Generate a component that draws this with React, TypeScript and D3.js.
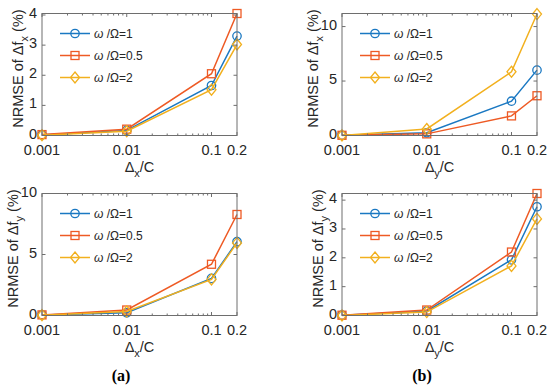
import React from 'react';
import * as d3 from 'd3';

// x values (log axis)
const xValues = [0.001, 0.01, 0.1, 0.2];
const xTickLabels = ['0.001', '0.01', '0.1', '0.2'];
const minorTicks = [0.002, 0.003, 0.004, 0.005, 0.006, 0.007, 0.008, 0.009, 0.02, 0.03, 0.04, 0.05, 0.06, 0.07, 0.08, 0.09];

const seriesLabels = ['1', '0.5', '2'];
const colors = ['#1a78c2', '#ee5a24', '#f2b01e'];
const markers = ['circle', 'square', 'diamond'];

// (a) top: NRMSE of dfx vs dx/C
const fxDx1 = [0.02, 0.17, 1.66, 3.3];
const fxDx05 = [0.03, 0.21, 2.05, 4.05];
const fxDx2 = [0.01, 0.14, 1.52, 3.02];
// (b) top: NRMSE of dfx vs dy/C
const fxDy1 = [0.02, 0.25, 3.15, 6.0];
const fxDy05 = [0.02, 0.15, 1.8, 3.65];
const fxDy2 = [0.01, 0.6, 5.85, 11.15];
// (a) bottom: NRMSE of dfy vs dx/C
const fyDx1 = [0.05, 0.22, 3.04, 6.05];
const fyDx05 = [0.05, 0.45, 4.2, 8.28];
const fyDx2 = [0.03, 0.33, 2.96, 5.95];
// (b) bottom: NRMSE of dfy vs dy/C
const fyDy1 = [0.01, 0.15, 1.93, 3.77];
const fyDy05 = [0.01, 0.19, 2.2, 4.23];
const fyDy2 = [0.0, 0.12, 1.72, 3.35];

const yTicksA = [0, 1, 2, 3, 4];
const yTicksB = [0, 5, 10];

const FONT = "'Liberation Sans', Arial, Helvetica, sans-serif";
const W = 195;
const H = 122;

function Marker({ type, x, y, color }) {
  if (type === 'circle') {
    return <circle cx={x} cy={y} r={4.2} fill="none" stroke={color} strokeWidth={1.3} />;
  }
  if (type === 'square') {
    return <rect x={x - 4} y={y - 4} width={8} height={8} fill="none" stroke={color} strokeWidth={1.3} />;
  }
  return (
    <path
      d={`M${x},${y - 5.5}L${x + 4.5},${y}L${x},${y + 5.5}L${x - 4.5},${y}Z`}
      fill="none"
      stroke={color}
      strokeWidth={1.3}
    />
  );
}

function Panel({ left, top, series, yMax, yTicks, xSub, ySub }) {
  const x = d3.scaleLog().domain([0.001, 0.2]).range([0, W]);
  const y = d3.scaleLinear().domain([0, yMax]).range([H, 0]);
  const line = d3
    .line<number>()
    .x((d, i) => x(xValues[i]))
    .y((d) => y(d));
  const axisColor = '#6e6e6e';
  // y label sits further out when tick labels have two digits
  const labelOff = yTicks[yTicks.length - 1] >= 10 ? -24 : -19;

  return (
    <g transform={`translate(${left},${top})`} fontFamily={FONT}>
      {/* series */}
      {series.map((s, k) => (
        <g key={k}>
          <path d={line(s) || ''} fill="none" stroke={colors[k]} strokeWidth={1.5} />
          {s.map((v, i) => (
            <Marker key={i} type={markers[k]} x={x(xValues[i])} y={y(v)} color={colors[k]} />
          ))}
        </g>
      ))}
      {/* box */}
      <rect x={0} y={0} width={W} height={H} fill="none" stroke={axisColor} strokeWidth={1} />
      {/* x ticks */}
      {xValues.map((t, i) => (
        <g key={i}>
          <line x1={x(t)} x2={x(t)} y1={H} y2={H - 3.5} stroke={axisColor} />
          <line x1={x(t)} x2={x(t)} y1={0} y2={3.5} stroke={axisColor} />
          <text x={x(t)} y={H + 19.5} textAnchor="middle" fontSize={14.5} fill="#262626">
            {xTickLabels[i]}
          </text>
        </g>
      ))}
      {minorTicks.map((t, i) => (
        <g key={i}>
          <line x1={x(t)} x2={x(t)} y1={H} y2={H - 2} stroke={axisColor} />
          <line x1={x(t)} x2={x(t)} y1={0} y2={2} stroke={axisColor} />
        </g>
      ))}
      {/* y ticks */}
      {yTicks.map((t, i) => (
        <g key={i}>
          <line x1={0} x2={3.5} y1={y(t)} y2={y(t)} stroke={axisColor} />
          <line x1={W} x2={W - 3.5} y1={y(t)} y2={y(t)} stroke={axisColor} />
          <text x={-5} y={y(t) + 3} textAnchor="end" fontSize={14.5} fill="#262626">
            {t}
          </text>
        </g>
      ))}
      {/* x label */}
      <text x={W / 2} y={H + 36} textAnchor="middle" fontSize={14.5} fill="#262626">
        Δ<tspan dy={5} fontSize={11}>{xSub}</tspan>
        <tspan dy={-5}>/C</tspan>
      </text>
      {/* y label */}
      <text
        transform={`translate(${labelOff},${H / 2 - 6}) rotate(-90)`}
        textAnchor="middle"
        fontSize={14.5}
        fill="#262626"
      >
        NRMSE of Δf<tspan dy={5} fontSize={11}>{ySub}</tspan>
        <tspan dy={-5}> (%)</tspan>
      </text>
      {/* legend */}
      {seriesLabels.map((lab, k) => {
        const ly = 20 + k * 22;
        return (
          <g key={k}>
            <line x1={18} x2={48} y1={ly} y2={ly} stroke={colors[k]} strokeWidth={1.5} />
            <Marker type={markers[k]} x={33} y={ly} color={colors[k]} />
            <text x={52} y={ly + 4.5} fontSize={12} fill="#262626">
              <tspan fontStyle="italic">ω</tspan>
              <tspan>{` /Ω=${lab}`}</tspan>
            </text>
          </g>
        );
      })}
    </g>
  );
}

export default function App() {
  return (
    <svg width={550} height={388} style={{ position: 'absolute', left: 0, top: 0, background: '#fff' }}>
      <rect width={550} height={388} fill="#fff" />
      <Panel left={42} top={13.5} series={[fxDx1, fxDx05, fxDx2]} yMax={4.05} yTicks={yTicksA} xSub="x" ySub="x" />
      <Panel left={342} top={13.5} series={[fxDy1, fxDy05, fxDy2]} yMax={11.2} yTicks={yTicksB} xSub="y" ySub="x" />
      <Panel left={42} top={193.5} series={[fyDx1, fyDx05, fyDx2]} yMax={10} yTicks={yTicksB} xSub="x" ySub="y" />
      <Panel left={342} top={193.5} series={[fyDy1, fyDy05, fyDy2]} yMax={4.23} yTicks={yTicksA} xSub="y" ySub="y" />
      <text x={121} y={381} textAnchor="middle" fontSize={16} fontWeight="bold" fontFamily="'Liberation Serif', 'Times New Roman', serif">
        (a)
      </text>
      <text x={422} y={381} textAnchor="middle" fontSize={16} fontWeight="bold" fontFamily="'Liberation Serif', 'Times New Roman', serif">
        (b)
      </text>
    </svg>
  );
}
